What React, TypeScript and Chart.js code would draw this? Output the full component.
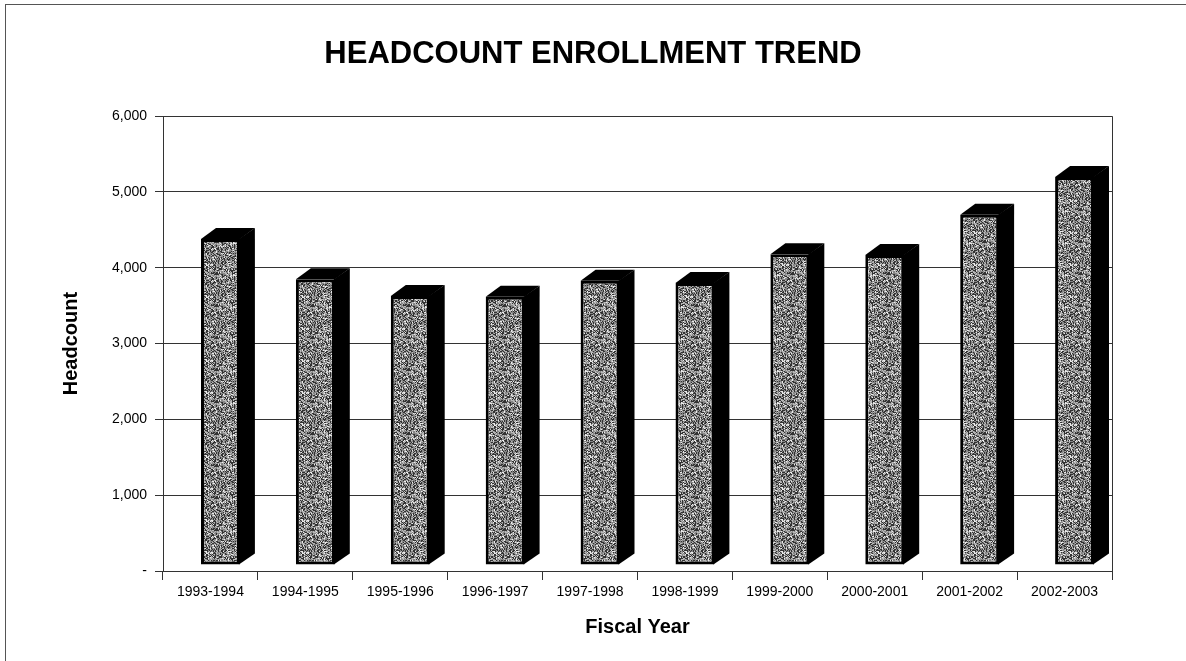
import React, { useEffect, useRef } from "react";
import { Chart, registerables } from "chart.js";

Chart.register(...registerables);

const categories = [
  "1993-1994",
  "1994-1995",
  "1995-1996",
  "1996-1997",
  "1997-1998",
  "1998-1999",
  "1999-2000",
  "2000-2001",
  "2001-2002",
  "2002-2003",
];
const headcount = [4300, 3770, 3550, 3540, 3750, 3720, 4100, 4090, 4620, 5120];
const yMin = 0;
const yMax = 6000;
const yStep = 1000;

const FONT = "'Liberation Sans', Arial, Helvetica, sans-serif";

function makePattern(): CanvasPattern | string {
  const size = 32;
  const c = document.createElement("canvas");
  c.width = size;
  c.height = size;
  const g = c.getContext("2d");
  if (!g) return "#999";
  const img = g.createImageData(size, size);
  let s = 987654321;
  for (let i = 0; i < size * size; i++) {
    s = (s * 1103515245 + 12345) & 0x7fffffff;
    const r = (s >> 8) % 100;
    const v = r < 34 ? 50 : r < 68 ? 135 : r < 90 ? 185 : 235;
    img.data[i * 4] = v;
    img.data[i * 4 + 1] = v;
    img.data[i * 4 + 2] = v;
    img.data[i * 4 + 3] = 255;
  }
  g.putImageData(img, 0, 0);
  return g.createPattern(c, "repeat") || "#999";
}

const bar3d = {
  id: "bar3d",
  beforeDatasetsDraw(chart: any) {
    chart.ctx.save();
    chart.ctx.translate(10, -6);
  },
  afterDatasetsDraw(chart: any) {
    const ctx = chart.ctx;
    const meta = chart.getDatasetMeta(0);
    const dx = 15;
    const dy = -11;
    meta.data.forEach((el: any) => {
      const { x, y, base, width } = el.getProps(["x", "y", "base", "width"], true);
      const l = x - width / 2;
      const r = x + width / 2;
      ctx.fillStyle = "#000";
      ctx.beginPath();
      ctx.moveTo(l, y);
      ctx.lineTo(l + dx, y + dy);
      ctx.lineTo(r + dx, y + dy);
      ctx.lineTo(r, y);
      ctx.closePath();
      ctx.fill();
      ctx.beginPath();
      ctx.moveTo(r - 1, y);
      ctx.lineTo(r + dx, y + dy);
      ctx.lineTo(r + dx, base + dy);
      ctx.lineTo(r - 1, base);
      ctx.closePath();
      ctx.fill();
    });
    ctx.restore();
  },
  afterDraw(chart: any) {
    const ctx = chart.ctx;
    const a = chart.chartArea;
    ctx.save();
    ctx.strokeStyle = "#333";
    ctx.lineWidth = 1;
    ctx.beginPath();
    ctx.moveTo(Math.round(a.right) + 0.5, a.top);
    ctx.lineTo(Math.round(a.right) + 0.5, a.bottom + 9);
    ctx.stroke();
    ctx.restore();
  },
};

export default function App() {
  const ref = useRef<HTMLCanvasElement | null>(null);

  useEffect(() => {
    if (!ref.current) return;
    const pattern = makePattern();
    const chart = new Chart(ref.current, {
      type: "bar",
      data: {
        labels: categories,
        datasets: [
          {
            label: "Headcount",
            data: headcount,
            backgroundColor: pattern as any,
            borderColor: "#000",
            borderWidth: 3,
            borderSkipped: false,
            barPercentage: 0.82,
            categoryPercentage: 0.5,
            clip: false as any,
          },
        ],
      },
      plugins: [bar3d],
      options: {
        responsive: false,
        animation: false,
        layout: { padding: { left: 0, right: 0, top: 0, bottom: 0 } },
        plugins: {
          legend: { display: false },
          tooltip: { enabled: false },
          title: {
            display: true,
            text: "HEADCOUNT ENROLLMENT TREND",
            color: "#000",
            font: { family: FONT, size: 31, weight: "bold" },
            padding: { top: 36, bottom: 43 },
          },
        },
        scales: {
          x: {
            offset: true,
            grid: {
              offset: true,
              drawOnChartArea: false,
              drawTicks: true,
              tickLength: 9,
              color: "#333",
            },
            border: { display: true, color: "#333", width: 1 },
            ticks: {
              color: "#000",
              font: { family: FONT, size: 14 },
              padding: 4,
              maxRotation: 0,
              autoSkip: false,
            },
            title: {
              display: true,
              text: "Fiscal Year",
              color: "#000",
              font: { family: FONT, size: 20, weight: "bold" },
              padding: { top: 0, bottom: 22 },
            },
            afterFit(scale: any) {
              scale.height = 90;
            },
          },
          y: {
            min: yMin,
            max: yMax,
            grid: {
              color: "#333",
              drawTicks: true,
              tickLength: 8,
            },
            border: { display: true, color: "#333", width: 1 },
            ticks: {
              stepSize: yStep,
              color: "#000",
              font: { family: FONT, size: 14 },
              padding: 8,
              callback: (v: any) => (Number(v) === 0 ? "-" : Number(v).toLocaleString("en-US")),
            },
            title: {
              display: true,
              text: "Headcount",
              color: "#000",
              font: { family: FONT, size: 20, weight: "bold" },
              padding: { top: 59, bottom: 0 },
            },
            afterFit(scale: any) {
              scale.width = 163;
            },
          },
          yRight: {
            type: "linear",
            position: "right",
            display: true,
            min: yMin,
            max: yMax,
            grid: { drawOnChartArea: false, drawTicks: false, display: false },
            border: { display: false },
            ticks: { display: false },
            afterFit(scale: any) {
              scale.width = 74;
            },
          },
        },
      },
    });
    return () => chart.destroy();
  }, []);

  return (
    <div style={{ position: "fixed", left: 0, top: 0, width: 1186, height: 661, background: "#fff" }}>
      <canvas ref={ref} width={1186} height={661} style={{ display: "block" }} />
      <div
        style={{
          position: "absolute",
          left: 5,
          top: 4,
          width: 1181,
          height: 657,
          borderTop: "1px solid #555",
          borderLeft: "1px solid #555",
          pointerEvents: "none",
        }}
      />
    </div>
  );
}
